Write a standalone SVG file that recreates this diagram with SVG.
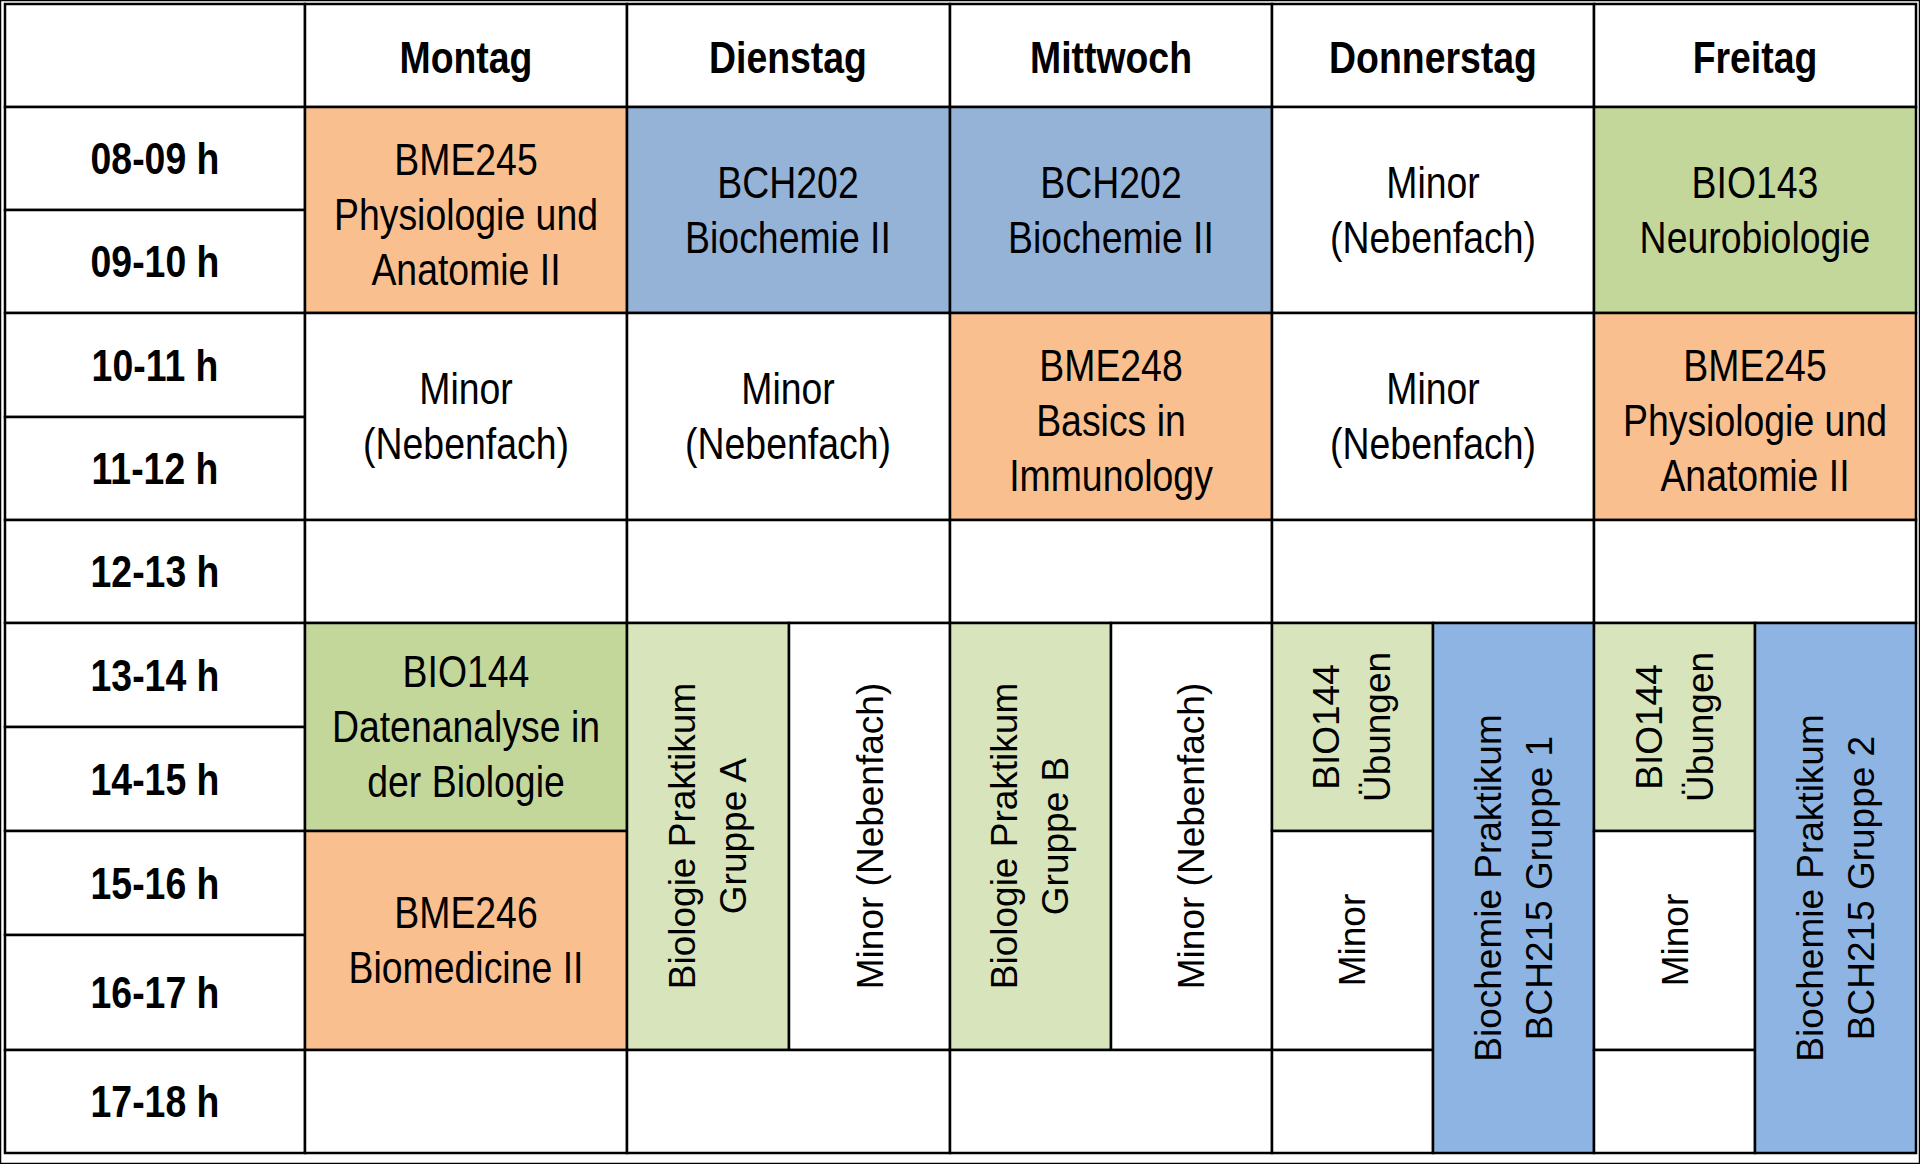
<svg xmlns="http://www.w3.org/2000/svg" width="1920" height="1164" viewBox="0 0 1920 1164">
<style>
rect{stroke:#000;stroke-width:2.5}
.w{fill:#fff}.o{fill:#F9BF8F}.b{fill:#95B3D7}.g{fill:#C4D79B}.lg{fill:#D8E4BC}.bp{fill:#8DB4E2}
text{font-family:"Liberation Sans",Arial,sans-serif;fill:#000;text-anchor:middle}
.h{font-size:44px;font-weight:bold}
.t{font-size:44px}
.r{font-size:37px}
</style>
<rect x="0" y="0" width="1920" height="1164" fill="#fff" stroke="none"/>
<g id="grid">
<rect class="w" x="5" y="4" width="300" height="103"/>
<rect class="w" x="305" y="4" width="322" height="103"/>
<rect class="w" x="627" y="4" width="323" height="103"/>
<rect class="w" x="950" y="4" width="322" height="103"/>
<rect class="w" x="1272" y="4" width="322" height="103"/>
<rect class="w" x="1594" y="4" width="322" height="103"/>
<rect class="w" x="5" y="107" width="300" height="103"/>
<rect class="w" x="5" y="210" width="300" height="103"/>
<rect class="w" x="5" y="313" width="300" height="104"/>
<rect class="w" x="5" y="417" width="300" height="103"/>
<rect class="w" x="5" y="520" width="300" height="103"/>
<rect class="w" x="5" y="623" width="300" height="104"/>
<rect class="w" x="5" y="727" width="300" height="104"/>
<rect class="w" x="5" y="831" width="300" height="104"/>
<rect class="w" x="5" y="935" width="300" height="115"/>
<rect class="w" x="5" y="1050" width="300" height="103"/>
</g>
<g id="header" transform="translate(0,0)">
<text class="h" transform="translate(466,73) scale(0.85,1)">Montag</text>
<text class="h" transform="translate(788,73) scale(0.85,1)">Dienstag</text>
<text class="h" transform="translate(1111,73) scale(0.85,1)">Mittwoch</text>
<text class="h" transform="translate(1433,73) scale(0.85,1)">Donnerstag</text>
<text class="h" transform="translate(1755,73) scale(0.85,1)">Freitag</text>
</g>
<g id="times">
<text class="h" transform="translate(155,174) scale(0.85,1)">08-09 h</text>
<text class="h" transform="translate(155,277) scale(0.85,1)">09-10 h</text>
<text class="h" transform="translate(155,381) scale(0.85,1)">10-11 h</text>
<text class="h" transform="translate(155,484) scale(0.85,1)">11-12 h</text>
<text class="h" transform="translate(155,587) scale(0.85,1)">12-13 h</text>
<text class="h" transform="translate(155,691) scale(0.85,1)">13-14 h</text>
<text class="h" transform="translate(155,795) scale(0.85,1)">14-15 h</text>
<text class="h" transform="translate(155,899) scale(0.85,1)">15-16 h</text>
<text class="h" transform="translate(155,1008) scale(0.85,1)">16-17 h</text>
<text class="h" transform="translate(155,1117) scale(0.85,1)">17-18 h</text>
</g>
<g id="montag">
<rect class="o" x="305" y="107" width="322" height="206"/>
<text class="t" transform="translate(466,175) scale(0.85,1)">BME245</text>
<text class="t" transform="translate(466,230) scale(0.85,1)">Physiologie und</text>
<text class="t" transform="translate(466,285) scale(0.85,1)">Anatomie II</text>
<rect class="w" x="305" y="313" width="322" height="207"/>
<text class="t" transform="translate(466,404) scale(0.85,1)">Minor</text>
<text class="t" transform="translate(466,459) scale(0.85,1)">(Nebenfach)</text>
<rect class="w" x="305" y="520" width="322" height="103"/>
<rect class="g" x="305" y="623" width="322" height="208"/>
<text class="t" transform="translate(466,687) scale(0.85,1)">BIO144</text>
<text class="t" transform="translate(466,742) scale(0.85,1)">Datenanalyse in</text>
<text class="t" transform="translate(466,797) scale(0.85,1)">der Biologie</text>
<rect class="o" x="305" y="831" width="322" height="219"/>
<text class="t" transform="translate(466,928) scale(0.85,1)">BME246</text>
<text class="t" transform="translate(466,983) scale(0.85,1)">Biomedicine II</text>
<rect class="w" x="305" y="1050" width="322" height="103"/>
</g>
<g id="dienstag">
<rect class="b" x="627" y="107" width="323" height="206"/>
<text class="t" transform="translate(788,198) scale(0.85,1)">BCH202</text>
<text class="t" transform="translate(788,253) scale(0.85,1)">Biochemie II</text>
<rect class="w" x="627" y="313" width="323" height="207"/>
<text class="t" transform="translate(788,404) scale(0.85,1)">Minor</text>
<text class="t" transform="translate(788,459) scale(0.85,1)">(Nebenfach)</text>
<rect class="w" x="627" y="520" width="323" height="103"/>
<rect class="lg" x="627" y="623" width="162" height="427"/>
<g transform="translate(708,836) rotate(-90)"><text class="r" y="-13">Biologie Praktikum</text><text class="r" y="38">Gruppe A</text></g>
<rect class="w" x="789" y="623" width="161" height="427"/>
<g transform="translate(870,836) rotate(-90)"><text class="r" y="13">Minor (Nebenfach)</text></g>
<rect class="w" x="627" y="1050" width="323" height="103"/>
</g>
<g id="mittwoch">
<rect class="b" x="950" y="107" width="322" height="206"/>
<text class="t" transform="translate(1111,198) scale(0.85,1)">BCH202</text>
<text class="t" transform="translate(1111,253) scale(0.85,1)">Biochemie II</text>
<rect class="o" x="950" y="313" width="322" height="207"/>
<text class="t" transform="translate(1111,381) scale(0.85,1)">BME248</text>
<text class="t" transform="translate(1111,436) scale(0.85,1)">Basics in</text>
<text class="t" transform="translate(1111,491) scale(0.85,1)">Immunology</text>
<rect class="w" x="950" y="520" width="322" height="103"/>
<rect class="lg" x="950" y="623" width="161" height="427"/>
<g transform="translate(1030,836) rotate(-90)"><text class="r" y="-13">Biologie Praktikum</text><text class="r" y="38">Gruppe B</text></g>
<rect class="w" x="1111" y="623" width="161" height="427"/>
<g transform="translate(1191,836) rotate(-90)"><text class="r" y="13">Minor (Nebenfach)</text></g>
<rect class="w" x="950" y="1050" width="322" height="103"/>
</g>
<g id="donnerstag">
<rect class="w" x="1272" y="107" width="322" height="206"/>
<text class="t" transform="translate(1433,198) scale(0.85,1)">Minor</text>
<text class="t" transform="translate(1433,253) scale(0.85,1)">(Nebenfach)</text>
<rect class="w" x="1272" y="313" width="322" height="207"/>
<text class="t" transform="translate(1433,404) scale(0.85,1)">Minor</text>
<text class="t" transform="translate(1433,459) scale(0.85,1)">(Nebenfach)</text>
<rect class="w" x="1272" y="520" width="322" height="103"/>
<rect class="lg" x="1272" y="623" width="161" height="208"/>
<g transform="translate(1352,727) rotate(-90)"><text class="r" y="-13">BIO144</text><text class="r" y="38">Übungen</text></g>
<rect class="w" x="1272" y="831" width="161" height="219"/>
<g transform="translate(1352,940) rotate(-90)"><text class="r" y="13">Minor</text></g>
<rect class="w" x="1272" y="1050" width="161" height="103"/>
<rect class="bp" x="1433" y="623" width="161" height="530"/>
<g transform="translate(1514,888) rotate(-90)"><text class="r" y="-13">Biochemie Praktikum</text><text class="r" y="38">BCH215 Gruppe 1</text></g>
</g>
<g id="freitag">
<rect class="g" x="1594" y="107" width="322" height="206"/>
<text class="t" transform="translate(1755,198) scale(0.85,1)">BIO143</text>
<text class="t" transform="translate(1755,253) scale(0.85,1)">Neurobiologie</text>
<rect class="o" x="1594" y="313" width="322" height="207"/>
<text class="t" transform="translate(1755,381) scale(0.85,1)">BME245</text>
<text class="t" transform="translate(1755,436) scale(0.85,1)">Physiologie und</text>
<text class="t" transform="translate(1755,491) scale(0.85,1)">Anatomie II</text>
<rect class="w" x="1594" y="520" width="322" height="103"/>
<rect class="lg" x="1594" y="623" width="161" height="208"/>
<g transform="translate(1675,727) rotate(-90)"><text class="r" y="-13">BIO144</text><text class="r" y="38">Übungen</text></g>
<rect class="w" x="1594" y="831" width="161" height="219"/>
<g transform="translate(1675,940) rotate(-90)"><text class="r" y="13">Minor</text></g>
<rect class="w" x="1594" y="1050" width="161" height="103"/>
<rect class="bp" x="1755" y="623" width="161" height="530"/>
<g transform="translate(1836,888) rotate(-90)"><text class="r" y="-13">Biochemie Praktikum</text><text class="r" y="38">BCH215 Gruppe 2</text></g>
</g>
<g id="connectors"></g>
</svg>
